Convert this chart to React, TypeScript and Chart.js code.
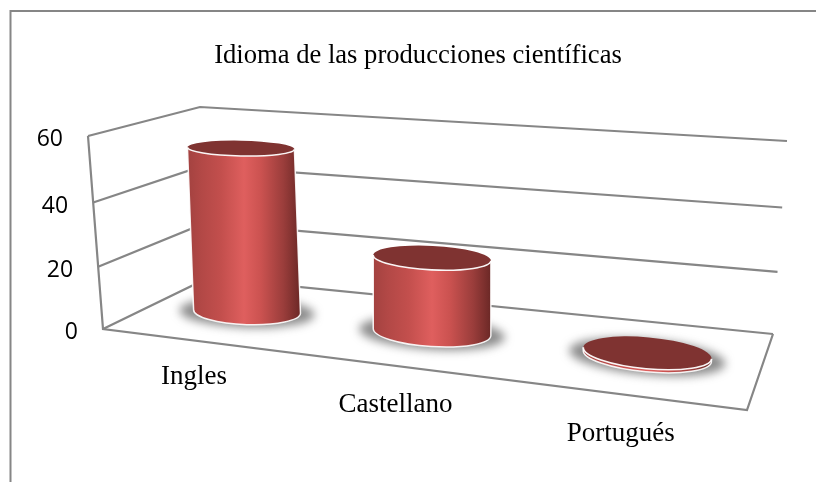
import React, { useEffect, useRef } from "react";
import { Chart, registerables } from "chart.js";

Chart.register(...registerables);

const chartTitle = "Idioma de las producciones científicas";
const categories = ["Ingles", "Castellano", "Portugués"];
const seriesValues = [55, 25, 1];
const yTicks = { min: 0, max: 60, step: 20 };

type Pt = [number, number];
const GREY = "#868686";
// Box corners of the 3D frame (floor, ceiling): front-left, front-right, back-right, back-left
const floorQuad: Pt[] = [[103, 329], [747, 410], [773, 334], [208, 278]];
const topQuad: Pt[] = [[88, 136], [763, 192], [787, 141], [200, 107]];
const labelNudge: Pt[] = [[4, 37], [10, 40], [5, 40]];

function homography(q: Pt[]) {
  const [[x0, y0], [x1, y1], [x2, y2], [x3, y3]] = q;
  const dx1 = x1 - x2, dx2 = x3 - x2, sx = x0 - x1 + x2 - x3;
  const dy1 = y1 - y2, dy2 = y3 - y2, sy = y0 - y1 + y2 - y3;
  const den = dx1 * dy2 - dx2 * dy1;
  const g = (sx * dy2 - dx2 * sy) / den;
  const h = (dx1 * sy - sx * dy1) / den;
  const a = x1 - x0 + g * x1, b = x3 - x0 + h * x3, c = x0;
  const d = y1 - y0 + g * y1, e = y3 - y0 + h * y3, f = y0;
  return (u: number, v: number): Pt => {
    const w = g * u + h * v + 1;
    return [(a * u + b * v + c) / w, (d * u + e * v + f) / w];
  };
}
const floorH = homography(floorQuad);
const topH = homography(topQuad);

function project(u: number, d: number, hRaw: number): Pt {
  const h = hRaw * (0.95 + 0.05 * hRaw);
  const p0 = floorH(u, d);
  const p1 = topH(u, d);
  return [p0[0] + (p1[0] - p0[0]) * h, p0[1] + (p1[1] - p0[1]) * h];
}

function polyline(ctx: CanvasRenderingContext2D, pts: Pt[]) {
  ctx.beginPath();
  pts.forEach((p, i) => (i ? ctx.lineTo(p[0], p[1]) : ctx.moveTo(p[0], p[1])));
}

function drawCylinder(ctx: CanvasRenderingContext2D, u: number, halfWidth: number, h: number) {
  const at = (hh: number) => {
    const base = floorH(u + 0.01, 0.5);
    return {
      x: base[0] + (u - 0.5) * 20 * hh,
      y: base[1] - 178 * hh,
      a: halfWidth * (0.85 + 0.27 * u) - 0.5,
      b: 12.5 + 4 * u - 6 * hh,
      rot: Math.atan((0.02 + 0.085 * u) * (1 - 0.5 * hh)),
    };
  };
  const bot = at(0);
  const cap = at(h);
  const ends = (e: any) => {
    const c = Math.cos(e.rot) * e.a, s = Math.sin(e.rot) * e.a;
    return { l: [e.x - c, e.y - s] as Pt, r: [e.x + c, e.y + s] as Pt };
  };
  const eb = ends(bot), ec = ends(cap);
  // soft floor shadow
  ctx.save();
  (ctx as any).filter = "blur(5px)";
  ctx.beginPath();
  ctx.ellipse(bot.x, bot.y + 1, bot.a + 14, bot.b + 2, bot.rot, 0, Math.PI * 2);
  ctx.fillStyle = "rgba(90,90,90,0.7)";
  ctx.fill();
  ctx.restore();
  // body
  const trace = () => {
    ctx.beginPath();
    ctx.moveTo(ec.l[0], ec.l[1]);
    ctx.lineTo(eb.l[0], eb.l[1]);
    ctx.ellipse(bot.x, bot.y, bot.a, bot.b, bot.rot, Math.PI, 0, true);
    ctx.lineTo(ec.r[0], ec.r[1]);
  };
  const x0 = Math.min(eb.l[0], ec.l[0]);
  const x1 = Math.max(eb.r[0], ec.r[0]);
  const grad = ctx.createLinearGradient(x0, 0, x1, 0);
  grad.addColorStop(0, "#a34240");
  grad.addColorStop(0.12, "#b24846");
  grad.addColorStop(0.3, "#c34f4d");
  grad.addColorStop(0.5, "#df5f5e");
  grad.addColorStop(0.65, "#cb5250");
  grad.addColorStop(0.85, "#9a3d3b");
  grad.addColorStop(1, "#6b2826");
  trace();
  ctx.closePath();
  ctx.fillStyle = grad;
  ctx.fill();
  trace();
  ctx.strokeStyle = "rgba(255,255,255,0.9)";
  ctx.lineWidth = 1.5;
  ctx.stroke();
  // cap
  ctx.beginPath();
  ctx.ellipse(cap.x, cap.y, cap.a, cap.b, cap.rot, 0, Math.PI * 2);
  ctx.fillStyle = "#7f3331";
  ctx.fill();
  ctx.beginPath();
  ctx.ellipse(cap.x, cap.y, cap.a, cap.b, cap.rot, Math.PI, 0, true);
  ctx.strokeStyle = "rgba(255,255,255,0.95)";
  ctx.lineWidth = 1.6;
  ctx.stroke();
}

const scene3d = {
  id: "scene3d",
  beforeDatasetsDraw(chart: any) {
    const { ctx, scales } = chart;
    const y = scales.y;
    const hOf = (v: number) => (y.bottom - y.getPixelForValue(v)) / (y.bottom - y.top);
    ctx.save();
    // outer frame
    ctx.strokeStyle = GREY;
    ctx.lineWidth = 2;
    polyline(ctx, [[10.5, 482], [10.5, 11], [816, 11]]);
    ctx.stroke();
    // walls: one line per axis tick, then the floor outline
    ctx.lineJoin = "miter";
    ctx.lineWidth = 2.2;
    y.ticks.forEach((t: any) => {
      const h = hOf(t.value);
      polyline(ctx, [project(0, 0, h), project(0, 1, h), project(1, 1, h)]);
      ctx.stroke();
    });
    polyline(ctx, [project(0, 0, 1), project(0, 0, 0), project(1, 0, 0), project(1, 1, 0)]);
    ctx.stroke();
    // value labels along the front edge of the side wall
    ctx.fillStyle = "#000";
    ctx.font = '23px "Open Sans"';
    ctx.textAlign = "right";
    ctx.textBaseline = "middle";
    y.ticks.forEach((t: any) => {
      const p = project(0, 0, hOf(t.value));
      ctx.fillText(String(t.value), p[0] - 25, p[1] + 3.5);
    });
    // category labels along the front edge of the floor
    const x = scales.x;
    ctx.font = '27px "Liberation Serif"';
    ctx.textAlign = "center";
    categories.forEach((c, i) => {
      const u = (x.getPixelForValue(i) - x.left) / (x.right - x.left);
      const p = project(u, 0, 0);
      ctx.fillText(c, p[0] + labelNudge[i][0], p[1] + labelNudge[i][1]);
    });
    ctx.restore();
  },
  beforeDatasetDraw(chart: any, args: any) {
    const { ctx, scales } = chart;
    const meta = chart.getDatasetMeta(args.index);
    const area = chart.chartArea;
    const y = scales.y;
    ctx.save();
    meta.data.forEach((el: any) => {
      const u = (el.x - area.left) / area.width;
      const h = (y.bottom - el.y) / (y.bottom - y.top);
      drawCylinder(ctx, u, el.width / 2, h);
    });
    ctx.restore();
    return false;
  },
};

export default function App() {
  const ref = useRef<HTMLCanvasElement>(null);
  useEffect(() => {
    const chart = new Chart(ref.current!, {
      type: "bar",
      data: {
        labels: categories,
        datasets: [
          {
            label: "Idioma",
            data: seriesValues,
            backgroundColor: "#c0504d",
            categoryPercentage: 0.55,
            barPercentage: 1,
          },
        ],
      },
      options: {
        animation: false,
        responsive: false,
        layout: { padding: { left: 89, right: 69, top: 40, bottom: 153 } },
        plugins: {
          legend: { display: false },
          tooltip: { enabled: false },
          title: {
            display: true,
            text: chartTitle,
            color: "#000",
            font: { family: "Liberation Serif", size: 26.6, weight: "normal" },
            padding: { top: 0, bottom: 64 },
          },
        },
        scales: {
          x: { display: false },
          y: {
            display: false,
            min: yTicks.min,
            max: yTicks.max,
            ticks: { stepSize: yTicks.step },
          },
        },
      },
      plugins: [scene3d],
    } as any);
    return () => chart.destroy();
  }, []);
  return (
    <div style={{ position: "absolute", left: 0, top: 0, width: 816, height: 482 }}>
      <canvas ref={ref} width={816} height={482} style={{ display: "block" }} />
    </div>
  );
}
